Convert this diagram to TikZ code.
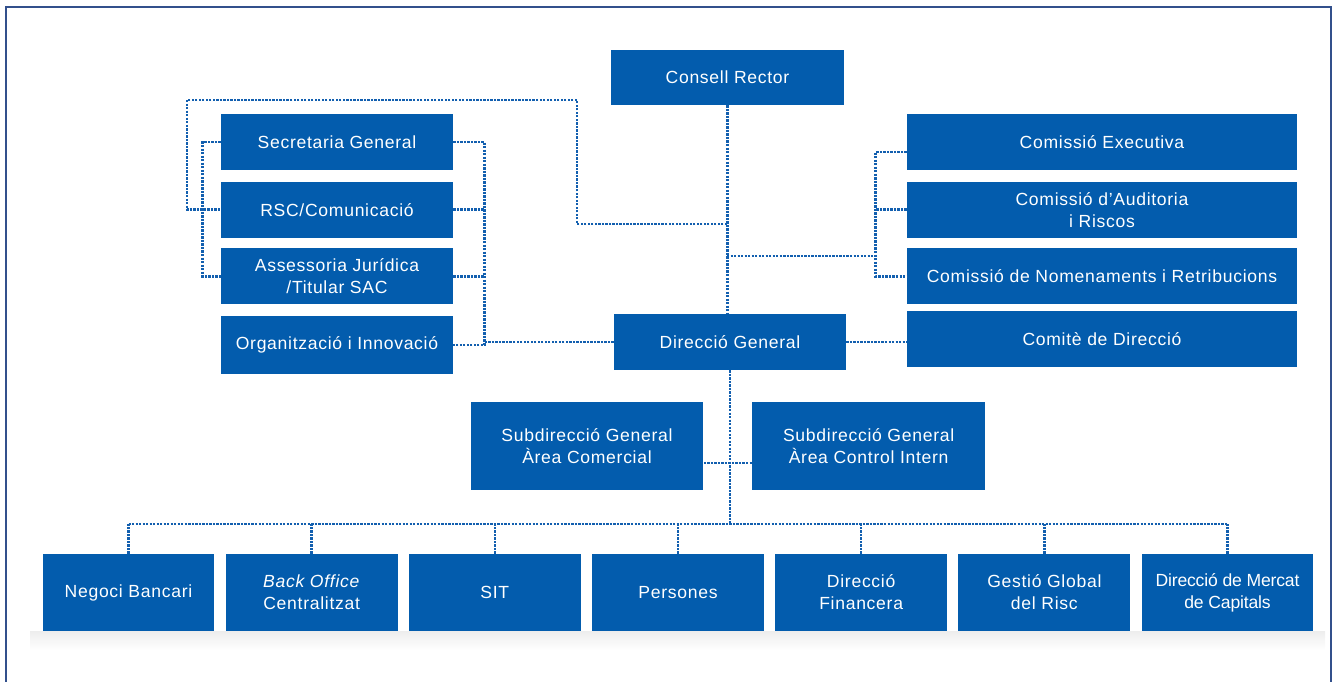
\documentclass[tikz,border=0pt]{standalone}
\usepackage{fontspec}
\setmainfont{Liberation Sans}[LetterSpace=4]
\usepackage{tikz}
\usetikzlibrary{positioning}
\definecolor{boxblue}{RGB}{3,92,173}
\definecolor{lineblue}{RGB}{18,95,175}
\definecolor{framecolor}{RGB}{50,80,140}

\begin{document}
\begin{tikzpicture}[x=0.02cm, y=-0.02cm,
squarednode/.style={rectangle, fill=boxblue, text=white, align=center, inner sep=0pt, font=\fontsize{10}{12.5}\selectfont, minimum width=4.64cm, minimum height=1.12cm},
widenode/.style={squarednode, minimum width=7.8cm},
subnode/.style={squarednode, minimum width=4.66cm, minimum height=1.76cm},
bottomnode/.style={squarednode, minimum width=3.44cm, minimum height=1.54cm},
dottedline/.style={draw=lineblue, line width=1.4pt, dash pattern=on 1.3pt off 0.7pt},
]
\useasboundingbox (0,0) rectangle (1336,682);
\draw[framecolor, line width=1.2pt] (6,682) -- (6,7) -- (1331,7) -- (1331,682);
\shade[top color=black!7, bottom color=white] (30,631) rectangle (1325,650);

%Nodes
\node[squarednode, minimum width=4.66cm, minimum height=1.1cm](Consell Rector) at (727.5,77.5){Consell Rector};

\node[squarednode](Secretaria General) at (337,142){Secretaria General};
\node[squarednode](RSC)[below=0.22cm of Secretaria General]{RSC/Comunicació};
\node[squarednode](Assessoria)[below=0.2cm of RSC]{Assessoria Jurídica\\/Titular SAC};
\node[squarednode, minimum height=1.16cm](Organitzacio)[below=0.22cm of Assessoria]{Organització i Innovació};

\node[widenode](Comissio Executiva) at (1102,142){Comissió Executiva};
\node[widenode](Auditoria)[below=0.22cm of Comissio Executiva]{Comissió d’Auditoria\\i Riscos};
\node[widenode](Nomenaments)[below=0.2cm of Auditoria]{Comissió de Nomenaments i Retribucions};
\node[widenode](Comite)[below=0.12cm of Nomenaments]{Comitè de Direcció};

\node[squarednode](Direccio General) at (730,342){Direcció General};

\node[subnode](Subdir Comercial) at (587,446){Subdirecció General\\Àrea Comercial};
\node[subnode](Subdir Control)[right=0.96cm of Subdir Comercial]{Subdirecció General\\Àrea Control Intern};

\node[bottomnode](Negoci Bancari) at (128.5,592.5){Negoci Bancari};
\node[bottomnode](Back Office)[right=0.21cm of Negoci Bancari]{\textit{Back Office}\\Centralitzat};
\node[bottomnode](SIT)[right=0.21cm of Back Office]{SIT};
\node[bottomnode](Persones)[right=0.21cm of SIT]{Persones};
\node[bottomnode](Direccio Financera)[right=0.21cm of Persones]{Direcció\\Financera};
\node[bottomnode](Gestio Global)[right=0.21cm of Direccio Financera]{Gestió Global\\del Risc};
\node[bottomnode, font=\fontsize{10}{12.5}\selectfont\addfontfeature{LetterSpace=-1}](Mercat Capitals)[right=0.21cm of Gestio Global]{Direcció de Mercat\\de Capitals};

\coordinate (Left junction) at (727,224);
\coordinate (Right junction) at (727,256);
\coordinate (Bottom junction) at (727,524);
\coordinate (Loop top right) at (577,100);
\coordinate (Loop top left) at (187,100);

%Lines
\draw[dottedline] (Consell Rector.south) -- (Consell Rector.south |- Direccio General.north);
\draw[dottedline] (Left junction) -| (Loop top right) -- (Loop top left) |- (RSC.west);
\draw[dottedline] (Secretaria General.west) -- ++(-18,0) |- (Assessoria.west);

\draw[dottedline] (Secretaria General.east) -- ++(31,0) coordinate (Left bracket) |- (Organitzacio.east);
\draw[dottedline] (RSC.east) -- (RSC.east -| Left bracket);
\draw[dottedline] (Assessoria.east) -- (Assessoria.east -| Left bracket);
\draw[dottedline] (Direccio General.west) -- (Direccio General.west -| Left bracket);

\draw[dottedline] ([yshift=-0.2cm]Comissio Executiva.west) -- ++(-31,0) coordinate (Right bracket) |- (Nomenaments.west);
\draw[dottedline] (Auditoria.west) -- (Auditoria.west -| Right bracket);
\draw[dottedline] (Right junction) -- (Right junction -| Right bracket);
\draw[dottedline] (Direccio General.east) -- (Direccio General.east -| Comite.west);

\draw[dottedline] (Direccio General.south) -- (Direccio General.south |- Bottom junction);
\draw[dottedline] ([yshift=-0.34cm]Subdir Comercial.east) -- ([yshift=-0.34cm]Subdir Control.west);
\draw[dottedline] (Negoci Bancari.north |- Bottom junction) -- (Mercat Capitals.north |- Bottom junction);
\foreach \unit in {Negoci Bancari,Back Office,SIT,Persones,Direccio Financera,Gestio Global,Mercat Capitals}
  \draw[dottedline] (\unit.north) -- (\unit.north |- Bottom junction);
\end{tikzpicture}
\end{document}
